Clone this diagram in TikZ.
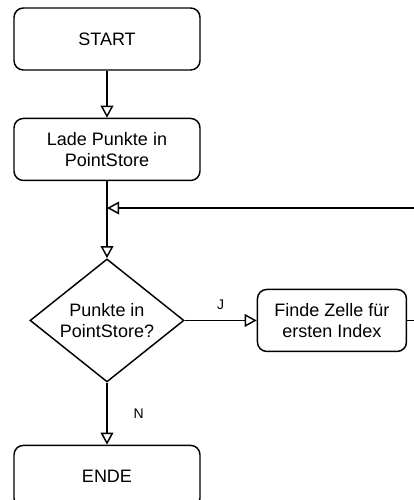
\documentclass[tikz,border=0pt]{standalone}
\usepackage{fontspec}
\setmainfont{Liberation Sans}
\usepackage{tikz}
\usetikzlibrary{positioning,shapes.geometric,arrows.meta}
\tikzstyle{block}=[draw,rounded corners=7pt,minimum width=139.5pt,minimum height=46.5pt,align=center,font=\fontsize{13.5pt}{15.5pt}\selectfont]
\tikzstyle{decision}=[draw,diamond,minimum width=115.5pt,minimum height=92.25pt,inner sep=0pt]
\tikzstyle{answer}=[font=\fontsize{10.5pt}{12pt}\selectfont]

\begin{document}
\begin{tikzpicture}[x=0.75pt,y=-0.75pt,line width=1.1pt]
\tikzstyle{flow}=[-{Triangle[open,length=9pt,width=9.5pt]}]
\useasboundingbox (0,0) rectangle (414,500);
\clip (0,0) rectangle (414,500);
\node (A) [block] at (107,39) {START};
\node (B) [block,below=35.25pt of A] {Lade Punkte in\\PointStore};
\node (C) [decision,below=57.75pt of B,label={[align=center,font=\fontsize{13.5pt}{15.5pt}\selectfont]center:Punkte in\\PointStore?}] {};
\node (D) [block,right=54pt of C,minimum width=111.75pt] {Finde Zelle für\\ersten Index};
\node (E) [block,below=46.5pt of C] {ENDE};
\coordinate (R) at (414,208);
\coordinate (M) at (R -| B.south);

\draw[flow] (A) -- (B);
\draw[flow] (B) -- (C);
\draw[flow] (R) -- (M);
\draw[flow] (C) -- node[answer,above=4pt] (J) {J} (D);
\draw[flow] (C) -- node[answer,right=16pt] (N) {N} (E);
\draw (D.east) -- (D.east -| R);
\end{tikzpicture}
\end{document}
